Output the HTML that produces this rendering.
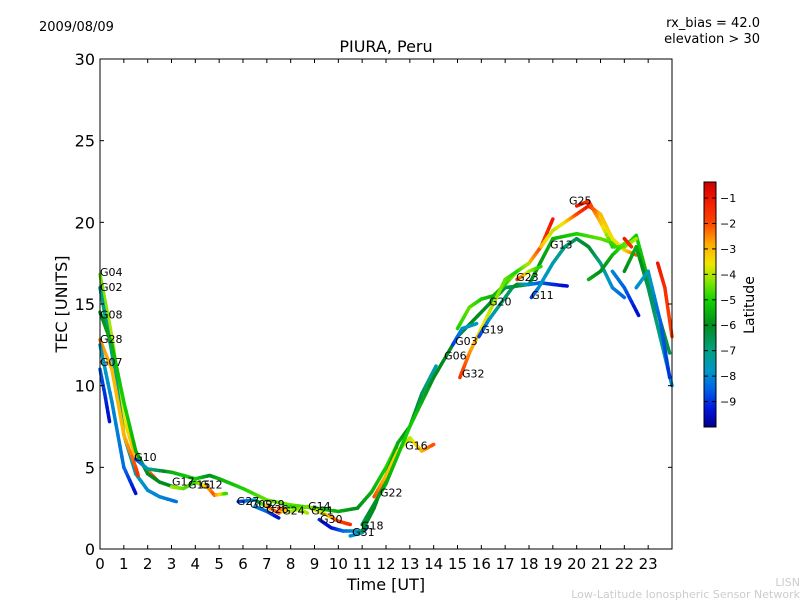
<!DOCTYPE html>
<html><head><meta charset="utf-8"><style>
body{margin:0;background:#fff;}
svg text{font-family:"DejaVu Sans","Liberation Sans",sans-serif;}
</style></head><body>
<svg id="chart" width="800" height="600" xmlns="http://www.w3.org/2000/svg">
<defs>
<linearGradient id="cbgrad" x1="0" y1="1" x2="0" y2="0"></linearGradient>
</defs>
<rect x="0" y="0" width="800" height="600" fill="#fff"/>
<text x="39" y="31" font-size="13">2009/08/09</text>
<text x="760" y="27" font-size="13" text-anchor="end">rx_bias = 42.0</text>
<text x="760" y="43" font-size="13" text-anchor="end">elevation &gt; 30</text>
<text x="386" y="52" font-size="16" text-anchor="middle">PIURA, Peru</text>
<text x="386" y="590" font-size="16" text-anchor="middle">Time [UT]</text>
<text transform="translate(67,304) rotate(-90)" font-size="16" text-anchor="middle">TEC [UNITS]</text>
<text x="800" y="586" font-size="11" fill="#ccc" text-anchor="end">LISN</text>
<text x="800" y="598" font-size="11" fill="#ccc" text-anchor="end">Low-Latitude Ionospheric Sensor Network</text>
<g id="tracks"></g>
<g id="labels"></g>
<rect x="100" y="59" width="572" height="490" fill="none" stroke="#000" stroke-width="1"/>
<g id="axes"></g>
<rect x="704" y="182" width="12" height="245" fill="url(#cbgrad)" stroke="#000" stroke-width="1"/>
<g id="cbticks"></g>
<text transform="translate(754,305) rotate(-90)" font-size="14" text-anchor="middle">Latitude</text>
</svg>
<script>
const xTicks=[0,1,2,3,4,5,6,7,8,9,10,11,12,13,14,15,16,17,18,19,20,21,22,23];
const yTicks=[0,5,10,15,20,25,30];
const cbTicks=[-1,-2,-3,-4,-5,-6,-7,-8,-9];
const latMin=-10.0, latMax=-0.37;
// tracks: [time, tec, latitude]
const trackG04=[[0,16.8,-4.5],[0.5,13,-4],[1,8,-3.6],[1.5,5.6,-3],[2,4.8,-2.5],[2.4,4.2,-1.5]];
const trackG02=[[0,16,-7],[0.5,12,-7],[1,7,-7.5],[1.5,4.6,-7.5],[2,3.6,-8],[2.5,3.2,-8],[3.2,2.9,-8.3]];
const trackG08=[[0,14.5,-6],[0.5,12.5,-5.5],[1,9,-5],[1.5,6,-5.5],[2,4.6,-6],[2.5,4.1,-6],[3.1,3.8,-6]];
const trackG28=[[0,12.8,-2.5],[0.5,11,-3],[1,7,-3],[1.5,5,-2],[1.6,4.5,-1.5]];
const trackG07=[[0,11,-8.5],[0.2,9.5,-9],[0.4,7.8,-9.5]];
const trackTeal=[[0,12.5,-7.5],[0.5,9,-8],[1,5,-8.3],[1.5,3.4,-9.5]];
const trackG10=[[1.5,5.5,-9],[2,4.9,-7.5],[3,4.7,-5.5],[4,4.3,-5],[4.6,4.5,-6],[5,4.3,-5.5],[6,3.7,-5],[7,3,-4.5],[8,2.7,-4.5],[9,2.5,-5],[10,2.3,-5.5],[10.8,2.5,-6],[11.4,3.5,-5.5],[12,5,-5],[12.5,6.5,-4.5]];
const trackG17=[[3,3.8,-4],[3.5,3.7,-4.5],[4,4.1,-5],[4.5,3.8,-3],[4.8,3.3,-2],[5.3,3.4,-5]];
const trackG27=[[5.8,2.9,-9],[6.5,3,-8],[7,2.6,-3],[7.5,2.2,-2],[8,2.6,-5],[8.7,2.2,-4]];
const trackG26=[[6.5,2.6,-8],[7,2.3,-8.5],[7.5,1.9,-9.5]];
const trackG24=[[7.5,2.5,-1.5],[8,2.3,-4],[8.7,2.6,-4.5],[9.5,2.1,-3.5],[10,1.7,-2],[10.5,1.5,-1.5]];
const trackG30=[[9.2,1.8,-9],[9.7,1.3,-9.5],[10.2,1.1,-8.5],[11,1.1,-7.5]];
const trackG31=[[10.5,0.8,-8],[11,1,-7.5],[11.2,1.3,-8.5]];
const trackG18=[[11,1.1,-6],[11.5,2.5,-6],[12,4.5,-6],[12.5,6.5,-5.5],[13,7.5,-6],[13.5,9.5,-6.5],[14.1,11.2,-7.5]];
const trackG22=[[11.5,3.2,-2],[12,4.5,-3],[12.5,6,-3.5],[13,6.8,-4],[13.5,6,-3],[14,6.4,-2]];
const trackG06=[[11,1.5,-6.5],[12,4,-5.5],[13,7.5,-5],[14,10.5,-6],[15,13,-6],[16,14.5,-6],[17,16,-6.5],[18,16.2,-6],[19,19,-5.5],[20,19.3,-5],[21,19,-4.5],[22,18.5,-5],[22.5,19.2,-5],[23,16.5,-5.5],[23.5,14,-6],[23.9,12,-6.5]];
const trackG03=[[14.8,12.5,-9],[15.2,13.5,-8],[15.8,13.8,-7.5]];
const trackG20=[[15,13.5,-5],[15.5,14.8,-4.5],[16,15.3,-5],[16.5,15.5,-5.5],[17,16.2,-5],[17.5,17,-4],[18,17.5,-3],[18.5,18.5,-2],[19,20.2,-1]];
const trackG32=[[15.1,10.5,-1.5],[15.5,12,-2.5],[16,13.5,-3.5],[16.5,15,-4],[17,16.5,-4.5],[17.5,17,-5],[18,17.5,-4]];
const trackG19=[[15.9,13,-9],[16.3,14,-8],[16.8,15,-7],[17.3,16,-6.5],[17.5,16.2,-6],[18,16.2,-8],[18.5,16.3,-8.5],[19,16.2,-9],[19.6,16.1,-9.5]];
const trackG11=[[18.1,15.4,-9],[18.4,16,-8],[19,17.5,-7.5],[19.5,18.5,-7],[20,19,-6.5],[20.5,18.5,-6],[21,17.5,-7],[21.5,16,-8],[22,15.4,-8.5]];
const trackG13=[[18.5,18.5,-3],[19,19.5,-4],[19.5,20,-3.5],[20,20.5,-2],[20.5,21,-1],[21,20.5,-3],[21.5,19,-3.5],[22,18.3,-3.5],[22.5,18,-2]];
const trackG25=[[20,21,-1],[20.5,21.3,-1.5],[21,20,-3],[21.5,18.5,-5],[22,18.5,-4.5],[22.5,19,-4]];
const trackG23=[[17.5,16.5,-1.5],[18,17,-4],[18.5,17.3,-5]];
const trackR1=[[22,17,-6],[22.5,18.5,-5.5],[23,16,-6.5],[23.5,13,-7],[24,10,-8]];
const trackR2=[[22.5,16,-8],[23,17,-7.5],[23.5,14,-8.5],[23.9,10.5,-9]];
const trackR3=[[23.4,17.5,-1],[23.7,16,-1.5],[24,13,-2]];
const trackR4=[[22,19,-1],[22.3,18.5,-1.5]];
const trackR5=[[20.5,16.5,-5.5],[21,17,-6],[21.5,18,-5.5],[22,18.7,-4.5]];
const trackR6=[[21.5,17,-8],[22,16,-8.5],[22.6,14.3,-9.5]];
const tracks=[trackG04,trackG02,trackG08,trackG28,trackG07,trackTeal,trackG10,trackG17,trackG27,trackG26,trackG24,trackG30,trackG31,trackG18,trackG22,trackG06,trackG03,trackG20,trackG32,trackG19,trackG11,trackG13,trackG25,trackG23,trackR1,trackR2,trackR3,trackR4,trackR5,trackR6];
const labelNames=["G04","G02","G08","G28","G07","G10","G17","G15","G12","G27","G09","G29","G26","G24","G14","G21","G30","G18","G31","G22","G16","G32","G06","G03","G19","G20","G11","G23","G13","G25"];
const labelTimes=[0,0,0,0,0,1.43,3.02,3.69,4.2,5.74,6.29,6.8,6.97,7.64,8.73,8.86,9.23,10.95,10.58,11.75,12.8,15.19,14.44,14.9,15.99,16.32,18.09,17.46,18.88,19.68];
const labelTecs=[16.7,15.8,14.1,12.6,11.2,5.4,3.9,3.7,3.7,2.7,2.5,2.5,2.2,2.1,2.4,2.1,1.6,1.2,0.8,3.2,6.1,10.5,11.6,12.5,13.2,14.9,15.3,16.4,18.4,21.1];
const X=t=>100+t*572/24, Y=v=>549-v*490/30;
const cStops=[[-10,[0,0,140]],[-9.3,[0,20,220]],[-8.5,[0,100,230]],[-7.8,[0,150,200]],[-7,[0,160,130]],[-6,[0,140,30]],[-5,[20,210,0]],[-4.3,[130,230,0]],[-3.6,[240,230,0]],[-2.8,[255,170,0]],[-2,[255,70,0]],[-1,[240,20,0]],[-0.37,[200,0,0]]];
function col(l){l=Math.max(latMin,Math.min(latMax,l));for(let i=1;i<cStops.length;i++){if(l<=cStops[i][0]){const a=cStops[i-1],b=cStops[i],f=(l-a[0])/(b[0]-a[0]);return 'rgb('+a[1].map((c,k)=>Math.round(c+(b[1][k]-c)*f)).join(',')+')';}}return 'rgb(200,0,0)';}
const NS='http://www.w3.org/2000/svg';
const grad=document.getElementById('cbgrad');
cStops.forEach(s=>{const st=document.createElementNS(NS,'stop');st.setAttribute('offset',((s[0]-latMin)/(latMax-latMin)).toFixed(3));st.setAttribute('stop-color',col(s[0]));grad.appendChild(st);});
const tg=document.getElementById('tracks');
tracks.forEach((tr,ti)=>{
  const g=document.createElementNS(NS,'g');
  
  
  for(let i=0;i<tr.length-1;i++){
    const a=tr[i],b=tr[i+1],n=6;
    for(let k=0;k<n;k++){
      const f0=k/n,f1=(k+1)/n;
      const ln=document.createElementNS(NS,'line');
      
      
      ln.setAttribute('x1',X(a[0]+(b[0]-a[0])*f0));ln.setAttribute('y1',Y(a[1]+(b[1]-a[1])*f0));
      ln.setAttribute('x2',X(a[0]+(b[0]-a[0])*f1));ln.setAttribute('y2',Y(a[1]+(b[1]-a[1])*f1));
      ln.setAttribute('stroke',col(a[2]+(b[2]-a[2])*(f0+f1)/2));
      ln.setAttribute('stroke-width','3.5');ln.setAttribute('stroke-linecap','round');
      g.appendChild(ln);
    }
  }
  tg.appendChild(g);
});
const lg=document.getElementById('labels');
labelNames.forEach((n,i)=>{
  const t=document.createElementNS(NS,'text');
  
  
  t.setAttribute('x',X(labelTimes[i]));t.setAttribute('y',Y(labelTecs[i]));
  t.setAttribute('font-size','11');t.textContent=n;lg.appendChild(t);
});
const ax=document.getElementById('axes');
function mk(tag,attrs,txt){const e=document.createElementNS(NS,tag);for(const k in attrs)e.setAttribute(k,attrs[k]);if(txt!==undefined)e.textContent=txt;ax.appendChild(e);return e;}
xTicks.forEach(t=>{
  const x=X(t);
  const a=mk('line',{x1:x,y1:549,x2:x,y2:545,stroke:'#000'});
  
  
  const b=mk('line',{x1:x,y1:59,x2:x,y2:63,stroke:'#000'});
  
  
  const l=mk('text',{x:x,y:569,'font-size':'15','text-anchor':'middle'},String(t));
  
  
});
yTicks.forEach(v=>{
  const y=Y(v);
  const a=mk('line',{x1:100,y1:y,x2:104,y2:y,stroke:'#000'});
  
  
  const b=mk('line',{x1:672,y1:y,x2:668,y2:y,stroke:'#000'});
  
  
  const l=mk('text',{x:95,y:y+6,'font-size':'16','text-anchor':'end'},String(v));
  
  
});
const cb=document.getElementById('cbticks');
cbTicks.forEach(v=>{
  const y=427-(v-latMin)/(latMax-latMin)*245;
  const a=document.createElementNS(NS,'line');
  
  
  a.setAttribute('x1',704);a.setAttribute('x2',708);a.setAttribute('y1',y);a.setAttribute('y2',y);a.setAttribute('stroke','#000');cb.appendChild(a);
  const b=document.createElementNS(NS,'line');
  
  
  b.setAttribute('x1',712);b.setAttribute('x2',716);b.setAttribute('y1',y);b.setAttribute('y2',y);b.setAttribute('stroke','#000');cb.appendChild(b);
  const t=document.createElementNS(NS,'text');
  
  
  t.setAttribute('x',720);t.setAttribute('y',y+4);t.setAttribute('font-size','11');t.textContent='\u2212'+Math.abs(v);cb.appendChild(t);
});
</script>
</body></html>
